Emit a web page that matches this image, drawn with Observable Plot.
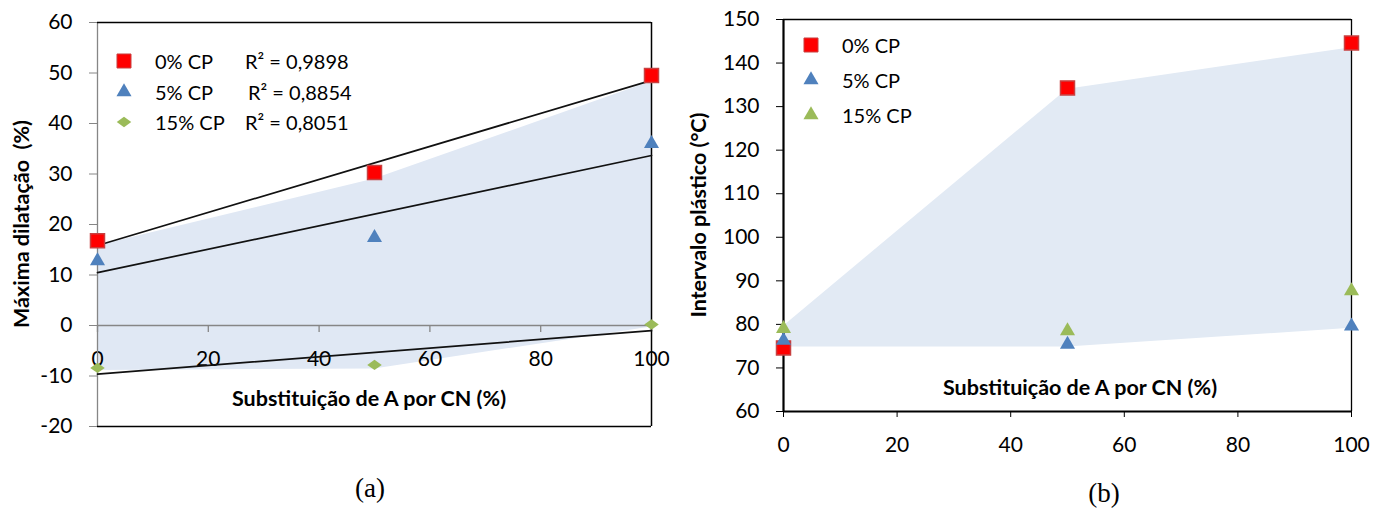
<!DOCTYPE html>
<html>
<head>
<meta charset="utf-8">
<script src="https://cdn.jsdelivr.net/npm/d3@7"></script>
<script src="https://cdn.jsdelivr.net/npm/@observablehq/plot@0.6"></script>
<style>
  body { margin: 0; background: #fff; }
  #fig { position: relative; width: 1389px; height: 510px; background: #fff; font-family: Lato, sans-serif; color: #000; }
  .abs { position: absolute; white-space: pre; }
  .ttl { font-weight: bold; font-size: 21.5px; }
  .leg { font-size: 20px; line-height: 1; }
  .cap { font-family: "Liberation Serif", "DejaVu Serif", serif; font-size: 27px; }
</style>
</head>
<body>
<div id="fig">
  <div id="pa" class="abs" style="left:0;top:0"></div>
  <div id="pb" class="abs" style="left:690px;top:0"></div>
</div>
<script>
// ---------- data ----------
const xVals = [0, 50, 100];
const seriesNames = ["0% CP", "5% CP", "15% CP"];
const r2Labels = ["R² = 0,9898", "R² = 0,8854", "R² = 0,8051"];
// (a) Máxima dilatação (%)
const dilat0 = [16.8, 30.3, 49.5];
const dilat5 = [12.8, 17.4, 36.0];
const dilat15 = [-8.4, -7.8, 0.2];
const bandAUpper = [15.8, 29.0, 48.3];
const bandALower = [-8.9, -8.6, -0.3];
// (b) Intervalo plástico (°C)
const interv0 = [74.6, 134.3, 144.6];
const interv5 = [76.3, 75.4, 79.6];
const interv15 = [79.0, 78.5, 87.7];
const bandBUpper = [79.6, 134.0, 143.5];
const bandBLower = [74.8, 74.8, 79.1];
// ticks
const xTicks = [0, 20, 40, 60, 80, 100];
const yTicksA = [-20, -10, 0, 10, 20, 30, 40, 50, 60];
const yTicksB = [60, 70, 80, 90, 100, 110, 120, 130, 140, 150];
const xTitle = "Substituição de A por CN (%)";
const yTitleA = "Máxima dilatação  (%)";
const yTitleB = "Intervalo plástico (°C)";

// ---------- styles ----------
const RED = "#FF0000", BLUE = "#4F81BD", GREEN = "#9BBB59";
const wideDiamond = {
  draw(ctx, size) {
    const h = Math.sqrt(size / 0.7);
    const w = 1.4 * h;
    ctx.moveTo(0, -h / 2); ctx.lineTo(w / 2, 0); ctx.lineTo(0, h / 2); ctx.lineTo(-w / 2, 0); ctx.closePath();
  }
};
const fmt = d => String(d);

function rows(arrs) {
  return seriesNames.flatMap((s, i) => xVals.map((x, j) => ({series: s, x, y: arrs[i][j]})));
}
function band(lo, hi) { return xVals.map((x, j) => ({x, lo: lo[j], hi: hi[j]})); }

const rowsA = rows([dilat0, dilat5, dilat15]);
const rowsB = rows([interv0, interv5, interv15]);
const markStyleA = [
  {symbol: "square", fill: RED, stroke: "#C84040", r: 7.9},
  {symbol: "triangle", fill: BLUE, stroke: "none", r: 5.6},
  {symbol: wideDiamond, fill: GREEN, stroke: "none", r: 4.9}
];
const markStyleB = [
  {symbol: "square", fill: RED, stroke: "#C84040", r: 7.9},
  {symbol: "triangle", fill: BLUE, stroke: "none", r: 5.6},
  {symbol: "triangle", fill: GREEN, stroke: "none", r: 5.6}
];
const plotStyle = {fontFamily: "Lato, sans-serif", fontSize: "21px", color: "#000", background: "transparent", overflow: "visible"};

// ---------- panel (a) ----------
const pa = Plot.plot({
  width: 680, height: 460,
  marginLeft: 97, marginRight: 29, marginTop: 22, marginBottom: 34,
  style: plotStyle,
  x: {domain: [0, 100], axis: null},
  y: {domain: [-20, 60]},
  marks: [
    Plot.areaY(band(bandALower, bandAUpper), {x: "x", y1: "lo", y2: "hi", fill: "#E0E8F4"}),
    Plot.ruleY([0], {stroke: "#868686", strokeWidth: 1.3}),
    Plot.ruleX(xTicks, {x: d => d, y1: 0, y2: -1.4, stroke: "#868686", strokeWidth: 1.3}),
    Plot.text(xTicks, {x: d => d, y: 0, dy: 26, lineAnchor: "top", text: fmt, fill: "#000"}),
    Plot.axisY(yTicksA, {tickSize: 8, tickPadding: 17, tickFormat: fmt, stroke: "#868686", fill: "#000", label: null}),
    Plot.ruleX([0], {stroke: "#868686", strokeWidth: 1.3}),
    Plot.ruleY([60], {stroke: "#000", strokeWidth: 1.5}),
    Plot.ruleY([-20], {stroke: "#000", strokeWidth: 1.5}),
    Plot.ruleX([100], {stroke: "#000", strokeWidth: 1.5}),
    Plot.linearRegressionY(rowsA, {x: "x", y: "y", z: "series", stroke: "#111", strokeWidth: 1.7, ci: 0}),
    ...seriesNames.map((s, i) => Plot.dot(rowsA.filter(d => d.series === s), {x: "x", y: "y", ...markStyleA[i]}))
  ]
});
document.getElementById("pa").appendChild(pa);

// ---------- panel (b) ----------
const pb = Plot.plot({
  width: 699, height: 460,
  marginLeft: 93, marginRight: 38, marginTop: 19, marginBottom: 49,
  style: plotStyle,
  x: {domain: [0, 100]},
  y: {domain: [60, 150]},
  marks: [
    Plot.areaY(band(bandBLower, bandBUpper), {x: "x", y1: "lo", y2: "hi", fill: "#E2EAF4"}),
    Plot.axisY(yTicksB, {tickSize: 7, tickPadding: 17, tickFormat: fmt, stroke: "#000", fill: "#000", label: null}),
    Plot.axisX(xTicks, {tickSize: 6, tickPadding: 20, tickFormat: fmt, stroke: "#000", fill: "#000", label: null}),
    Plot.ruleY([150], {stroke: "#000", strokeWidth: 1.3}),
    Plot.ruleX([100], {stroke: "#000", strokeWidth: 1.3}),
    Plot.ruleX([0], {stroke: "#000", strokeWidth: 2.2}),
    Plot.ruleY([60], {stroke: "#000", strokeWidth: 2.2}),
    ...seriesNames.map((s, i) => Plot.dot(rowsB.filter(d => d.series === s), {x: "x", y: "y", ...markStyleB[i]}))
  ]
});
document.getElementById("pb").appendChild(pb);

// ---------- overlays (titles, legends, captions) ----------
const fig = document.getElementById("fig");
function addText(txt, cls, css) {
  const d = document.createElement("div");
  d.className = "abs " + cls;
  d.textContent = txt;
  d.style.cssText += css;
  fig.appendChild(d);
  return d;
}
addText(xTitle, "ttl", "left:369px;top:398px;transform:translate(-50%,-50%);");
addText(xTitle, "ttl", "left:1080px;top:387px;transform:translate(-50%,-50%);");
addText(yTitleA, "ttl", "left:21px;top:224px;transform:translate(-50%,-50%) rotate(-90deg);");
addText(yTitleB, "ttl", "left:698px;top:215px;transform:translate(-50%,-50%) rotate(-90deg);");
addText("(a)", "cap", "left:370px;top:488px;transform:translate(-50%,-50%);");
addText("(b)", "cap", "left:1104px;top:493px;transform:translate(-50%,-50%);");

function swatch(style, cx, cy) {
  const s = d3.create("svg").attr("width", 24).attr("height", 24)
    .style("position", "absolute").style("left", (cx - 12) + "px").style("top", (cy - 12) + "px");
  const type = style.symbol === "square" ? d3.symbolSquare : style.symbol === "triangle" ? d3.symbolTriangle : style.symbol;
  s.append("path").attr("transform", "translate(12,12)")
    .attr("d", d3.symbol(type, Math.PI * style.r * style.r)())
    .attr("fill", style.fill).attr("stroke", style.stroke);
  fig.appendChild(s.node());
}
const legRowsA = [61, 91.5, 121.5];
const r2Left = [245, 248, 245];
seriesNames.forEach((s, i) => {
  swatch(markStyleA[i], 124, legRowsA[i]);
  addText(s, "leg", `left:155px;top:${legRowsA[i]}px;transform:translateY(-50%);`);
  addText(r2Labels[i], "leg", `left:${r2Left[i]}px;top:${legRowsA[i]}px;transform:translateY(-50%);`);
});
const legRowsB = [45, 80, 115];
seriesNames.forEach((s, i) => {
  swatch(markStyleB[i], 811, legRowsB[i]);
  addText(s, "leg", `left:842px;top:${legRowsB[i]}px;transform:translateY(-50%);`);
});
</script>
</body>
</html>
